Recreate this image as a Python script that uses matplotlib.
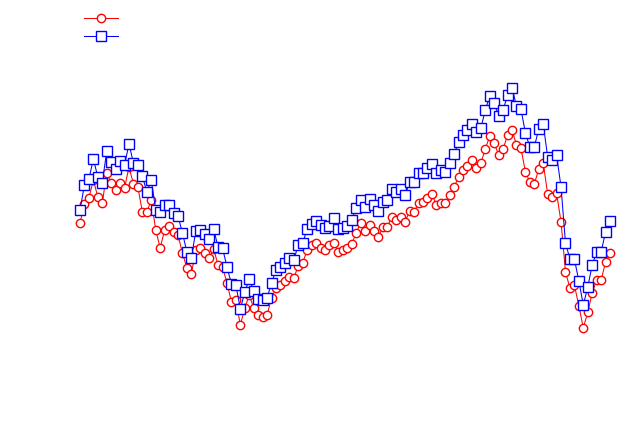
import matplotlib
matplotlib.use("Agg")
import matplotlib.pyplot as plt
import numpy as np

# values (height above bottom edge, in px units of the original)
H = 436
red_y_px = [223, 204, 198, 180, 197, 203, 173, 183, 190, 183,
            188, 167, 184, 187, 212, 212, 200, 230, 248, 230,
            226, 232, 235, 253, 268, 274, 250, 248, 253, 258,
            249, 265, 267, 283, 302, 300, 325, 308, 295, 308,
            315, 317, 315, 298, 288, 285, 281, 277, 278, 266,
            263, 250, 245, 243, 248, 250, 245, 243, 252, 250,
            248, 244, 233, 223, 231, 225, 231, 237, 227, 227,
            217, 220, 217, 222, 211, 212, 203, 202, 198, 194,
            205, 203, 203, 195, 187, 177, 170, 166, 160, 168,
            163, 149, 136, 143, 155, 149, 135, 130, 145, 148,
            172, 182, 184, 169, 163, 194, 197, 193, 222, 272,
            288, 285, 306, 328, 312, 293, 280, 280, 262, 253]
blue_y_px = [210, 185, 179, 159, 177, 183, 151, 162, 169, 161,
             165, 144, 163, 165, 176, 192, 180, 210, 212, 205,
             205, 213, 216, 233, 252, 258, 231, 230, 234, 239,
             229, 247, 248, 267, 284, 285, 309, 292, 279, 291,
             299, 300, 298, 283, 270, 267, 263, 258, 260, 245,
             243, 229, 224, 221, 225, 228, 226, 218, 229, 228,
             226, 220, 208, 200, 207, 199, 205, 211, 202, 200,
             189, 192, 189, 195, 182, 182, 173, 173, 168, 164,
             173, 170, 172, 163, 154, 142, 135, 130, 124, 132,
             128, 110, 96, 103, 116, 110, 95, 88, 106, 109,
             133, 147, 147, 129, 124, 157, 160, 155, 187, 243,
             259, 259, 281, 305, 287, 265, 252, 252, 232, 221]

red = H - np.array(red_y_px)
blue = H - np.array(blue_y_px)
x = np.arange(len(red))

fig = plt.figure(figsize=(6.3, 4.36), dpi=100)
ax = fig.add_axes([0, 0, 1, 1])
step = 4.454
ax.set_xlim(-80 / step, -80 / step + 630 / step)
ax.set_ylim(0, H)
ax.axis("off")

l1, = ax.plot(x, red, color="red", lw=0.75, marker="o", ms=6.0,
              mfc="white", mec="red", mew=1.0, zorder=2)
l2, = ax.plot(x, blue, color="blue", lw=0.75, marker="s", ms=7.3,
              mfc="white", mec="blue", mew=1.0, zorder=3)

leg = ax.legend([l1, l2], ["", ""], loc="upper left", frameon=False,
                handlelength=2.4, bbox_to_anchor=(0.125, 0.985),
                labelspacing=0.25, borderaxespad=0, handletextpad=0)

fig.savefig("out.png", dpi=100)
